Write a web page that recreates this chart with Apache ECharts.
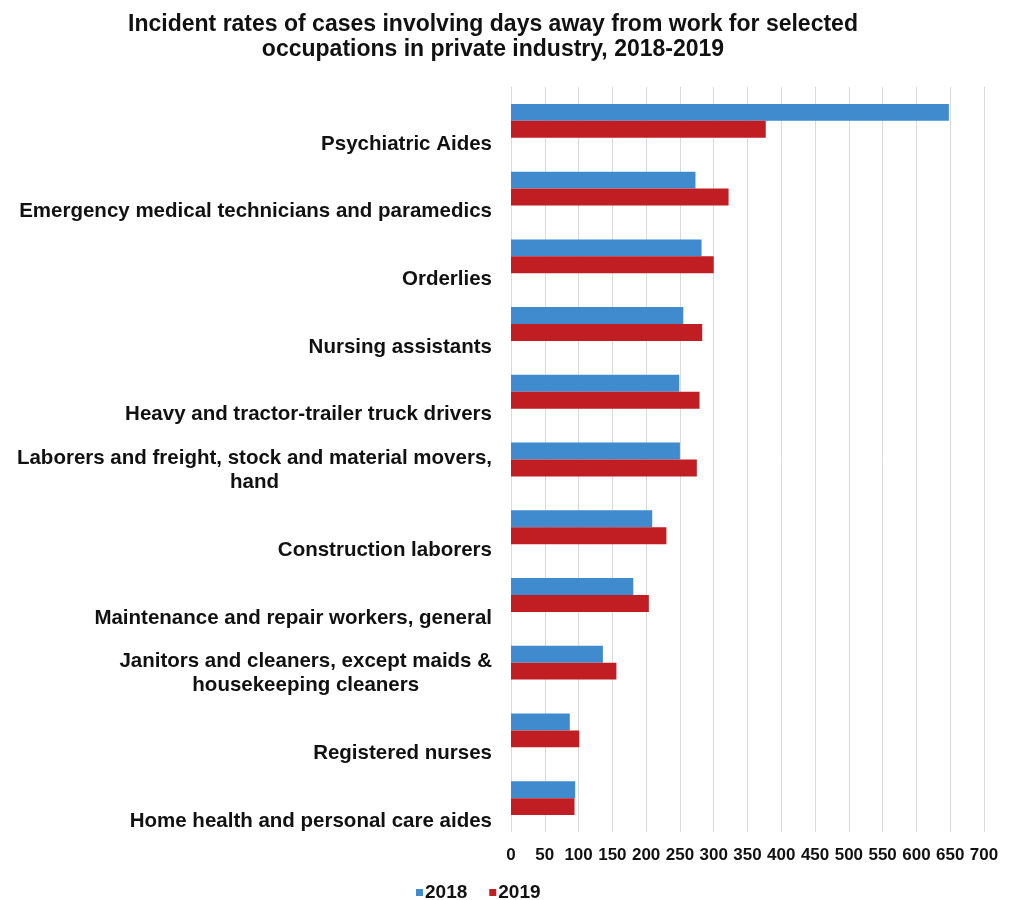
<!DOCTYPE html>
<html>
<head>
<meta charset="utf-8">
<script src="https://cdn.jsdelivr.net/npm/echarts@6/dist/echarts.min.js"></script>
<style>
html,body{margin:0;padding:0;background:#fff;}
#chart{width:1014px;height:900px;}
</style>
</head>
<body>
<div id="chart"></div>
<script>
const categories = [
  "Psychiatric Aides",
  "Emergency medical technicians and paramedics",
  "Orderlies",
  "Nursing assistants",
  "Heavy and tractor-trailer truck drivers",
  "Laborers and freight, stock and material movers,\nhand",
  "Construction laborers",
  "Maintenance and repair workers, general",
  "Janitors and cleaners, except maids &\nhousekeeping cleaners",
  "Registered nurses",
  "Home health and personal care aides"
];
const values2018 = [648, 273, 282, 255, 249, 250, 209, 181, 136, 87, 95];
const values2019 = [377, 322, 300, 283, 279, 275, 230, 204, 156, 101, 94];
const xTicks = { min: 0, max: 700, interval: 50 };

const FONT = 'Liberation Sans, Arial, sans-serif';
const chart = echarts.init(document.getElementById('chart'));
chart.setOption({
  animation: false,
  backgroundColor: '#ffffff',
  title: {
    text: 'Incident rates of cases involving days away from work for selected\noccupations in private industry, 2018-2019',
    left: 488, top: 7, textAlign: 'center',
    textStyle: { fontFamily: FONT, fontWeight: 'bold', fontSize: 23, lineHeight: 25, color: '#111' }
  },
  legend: {
    top: 878, left: 411,
    itemWidth: 7, itemHeight: 7, itemGap: 22,
    icon: 'rect',
    textStyle: { fontFamily: FONT, fontWeight: 'bold', fontSize: 19, color: '#111', padding: [0, 0, 0, -3] },
    data: ['2018', '2019']
  },
  grid: { left: 511, right: 30, top: 87, bottom: 68, containLabel: false },
  xAxis: {
    type: 'value', min: xTicks.min, max: xTicks.max, interval: xTicks.interval,
    axisLine: { show: false }, axisTick: { show: false },
    splitLine: { show: true, lineStyle: { color: '#dadada', width: 1 } },
    axisLabel: { margin: 15, fontFamily: FONT, fontWeight: 'bold', fontSize: 17, color: '#111' }
  },
  yAxis: {
    type: 'category', data: categories, inverse: true,
    axisLine: { show: false }, axisTick: { show: false },
    axisLabel: {
      margin: 19, align: 'right', verticalAlign: 'bottom',
      padding: [0, 0, -35, 0],
      fontFamily: FONT, fontWeight: 'bold', fontSize: 20, lineHeight: 24, color: '#111',
      formatter: function (v) {
        return v.split('\n').map(function (s) { return '{c|' + s + '}'; }).join('\n');
      },
      rich: {
        c: { align: 'center', fontFamily: FONT, fontWeight: 'bold', fontSize: 20.5, lineHeight: 24, color: '#111' }
      }
    }
  },
  series: [
    { name: '2018', type: 'bar', data: values2018, barGap: '0%', barCategoryGap: '50%', itemStyle: { color: '#3f8bce' } },
    { name: '2019', type: 'bar', data: values2019, barGap: '0%', barCategoryGap: '50%', itemStyle: { color: '#c01e23' } }
  ]
});
</script>
</body>
</html>
